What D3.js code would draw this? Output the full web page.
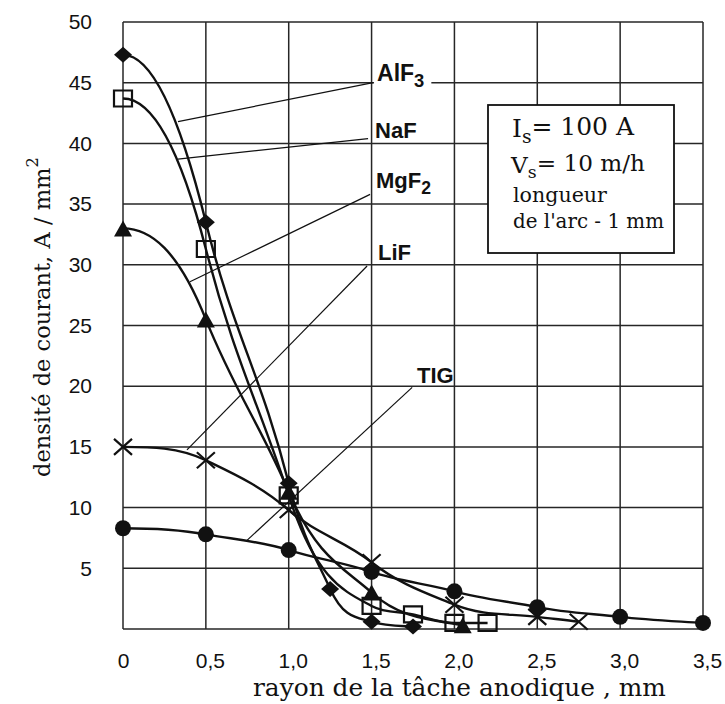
<!DOCTYPE html>
<html>
<head>
<meta charset="utf-8">
<script src="https://cdn.jsdelivr.net/npm/d3@7"></script>
<style>
  body { margin: 0; background: #fff; }
  svg { display: block; }
</style>
</head>
<body>
<svg id="chart" width="725" height="704"></svg>
<script>
// Current density (A/mm²) versus distance from the anode spot centre (mm)
const alf3X = [0, 0.5, 1.0, 1.25, 1.5, 1.75];
const alf3Y = [47.3, 33.5, 12.0, 3.3, 0.6, 0.2];

const nafX = [0, 0.5, 1.0, 1.5, 1.75, 2.0, 2.2];
const nafY = [43.7, 31.3, 11.0, 1.9, 1.2, 0.5, 0.5];

const mgf2X = [0, 0.5, 1.0, 1.5, 2.05];
const mgf2Y = [33.0, 25.5, 11.3, 3.0, 0.3];

const lifX = [0, 0.5, 1.0, 1.5, 2.0, 2.5, 2.75];
const lifY = [15.0, 13.9, 9.8, 5.5, 2.0, 1.0, 0.6];

const tigX = [0, 0.5, 1.0, 1.5, 2.0, 2.5, 3.0, 3.5];
const tigY = [8.3, 7.8, 6.5, 4.7, 3.1, 1.8, 1.0, 0.5];

const xTickValues = [0, 0.5, 1.0, 1.5, 2.0, 2.5, 3.0, 3.5];
const xTickLabels = ["0", "0,5", "1,0", "1,5", "2,0", "2,5", "3,0", "3,5"];
const yTickValues = [5, 10, 15, 20, 25, 30, 35, 40, 45, 50];
const yTickLabels = ["5", "10", "15", "20", "25", "30", "35", "40", "45", "50"];

// Curve names with their leader lines (data units)
const labelNames = ["AlF", "NaF", "MgF", "LiF", "TIG"];
const labelSubs = ["3", "", "2", "", ""];
const labelTextX = [1.533, 1.521, 1.527, 1.539, 1.774];
const labelTextY = [45.1, 40.45, 36.3, 30.4, 20.25];
const leaderFromX = [1.509, 1.479, 1.491, 1.473, 1.745];
const leaderFromY = [45.0, 40.4, 35.8, 29.9, 19.9];
const leaderToX = [0.332, 0.332, 0.404, 0.386, 0.748];
const leaderToY = [41.8, 38.7, 28.6, 14.75, 7.3];

const svg = d3.select("#chart");
const x = d3.scaleLinear().domain([0, 3.5]).range([123, 703]);
const y = d3.scaleLinear().domain([0, 50]).range([629, 22]);

const ink = "#111";
const gridInk = "#262626";

// Grid
const grid = svg.append("g").attr("stroke", gridInk).attr("stroke-width", 1.5);
grid.selectAll("line.v").data(xTickValues).join("line")
  .attr("x1", d => x(d)).attr("x2", d => x(d))
  .attr("y1", y(0)).attr("y2", y(50));
grid.selectAll("line.h").data([0].concat(yTickValues)).join("line")
  .attr("x1", x(0)).attr("x2", x(3.5))
  .attr("y1", d => y(d)).attr("y2", d => y(d));

// Axes (labels only)
const sansFont = "Liberation Sans, Arial, sans-serif";
const serifFont = "DejaVu Serif, serif";

const yAxis = svg.append("g").attr("transform", `translate(${x(0)},0)`)
  .call(d3.axisLeft(y).tickValues(yTickValues).tickFormat((d, i) => yTickLabels[i]).tickSize(0).tickPadding(31));
const xAxis = svg.append("g").attr("transform", `translate(0,${y(0)})`)
  .call(d3.axisBottom(x).tickValues(xTickValues).tickFormat((d, i) => xTickLabels[i]).tickSize(0).tickPadding(24));
[yAxis, xAxis].forEach(g => {
  g.select(".domain").remove();
  g.selectAll("text").attr("font-family", sansFont).attr("font-size", 21).attr("fill", ink);
});
xAxis.selectAll("text").attr("dx", (d, i) => i === 0 ? 0 : 4);

// Fits a text element to a given width by adjusting its font size
function fitWidth(sel, target) {
  const w = sel.node().getComputedTextLength();
  const fs = parseFloat(sel.attr("font-size"));
  sel.attr("font-size", (fs * target / w).toFixed(2));
  return sel;
}

// Axis titles
const xTitle = svg.append("text")
  .attr("x", 253).attr("y", 696)
  .attr("font-family", serifFont).attr("font-size", 22).attr("fill", ink)
  .text("rayon de la tâche anodique , mm");
fitWidth(xTitle, 413);

const yTitle = svg.append("text")
  .attr("transform", "translate(50,477) rotate(-90)")
  .attr("font-family", serifFont).attr("font-size", 22).attr("fill", ink);
yTitle.append("tspan").text("densité de courant, A / mm");
yTitle.append("tspan").attr("dy", "-0.75em").attr("font-size", "0.72em").text("2");
fitWidth(yTitle, 320);

// Leader lines
const leaders = svg.append("g").attr("stroke", ink).attr("stroke-width", 1.2);
labelNames.forEach((n, i) => {
  leaders.append("line")
    .attr("x1", x(leaderFromX[i])).attr("y1", y(leaderFromY[i]))
    .attr("x2", x(leaderToX[i])).attr("y2", y(leaderToY[i]));
});

// Smooth spline through every point: leaves the axis horizontally,
// interior tangents slightly stiffened, then limited so that no
// segment overshoots its end points.
function curveFlatStartSpline(context) {
  let xs, ys;
  const stiffness = 1.3;
  return {
    areaStart() {}, areaEnd() {},
    lineStart() { xs = []; ys = []; },
    point(px, py) { xs.push(+px); ys.push(+py); },
    lineEnd() {
      const n = xs.length;
      if (!n) return;
      context.moveTo(xs[0], ys[0]);
      if (n < 2) return;
      const h = [], s = [];
      for (let i = 0; i < n - 1; i++) {
        h.push(xs[i + 1] - xs[i]);
        s.push((ys[i + 1] - ys[i]) / h[i]);
      }
      const a = new Array(n).fill(0), b = new Array(n).fill(0),
            c = new Array(n).fill(0), d = new Array(n).fill(0);
      b[0] = 1;
      for (let i = 1; i < n - 1; i++) {
        a[i] = 1 / h[i - 1];
        b[i] = 2 * (1 / h[i - 1] + 1 / h[i]);
        c[i] = 1 / h[i];
        d[i] = 3 * (s[i - 1] / h[i - 1] + s[i] / h[i]);
      }
      a[n - 1] = 1; b[n - 1] = 2; d[n - 1] = 3 * s[n - 2];
      for (let i = 1; i < n; i++) {
        const w = a[i] / b[i - 1];
        b[i] -= w * c[i - 1];
        d[i] -= w * d[i - 1];
      }
      const m = new Array(n);
      m[n - 1] = d[n - 1] / b[n - 1];
      for (let i = n - 2; i >= 0; i--) m[i] = (d[i] - c[i] * m[i + 1]) / b[i];
      for (let i = 1; i < n; i++) {
        const left = s[i - 1];
        const right = i < n - 1 ? s[i] : left;
        if (i < n - 1) m[i] *= stiffness;
        if (left === 0 || right === 0 || Math.sign(left) !== Math.sign(right) || Math.sign(m[i]) !== Math.sign(left)) {
          m[i] = 0;
        } else {
          m[i] = Math.sign(m[i]) * Math.min(Math.abs(m[i]), 3 * Math.min(Math.abs(left), Math.abs(right)));
        }
      }
      for (let i = 0; i < n - 1; i++) {
        const dx = h[i] / 3;
        context.bezierCurveTo(xs[i] + dx, ys[i] + dx * m[i], xs[i + 1] - dx, ys[i + 1] - dx * m[i + 1], xs[i + 1], ys[i + 1]);
      }
    }
  };
}

const line = d3.line().x(d => x(d[0])).y(d => y(d[1])).curve(curveFlatStartSpline);
const zip = (xs, ys) => xs.map((v, i) => [v, ys[i]]);

const series = [
  { key: "AlF3", pts: zip(alf3X, alf3Y), marker: "diamond" },
  { key: "NaF", pts: zip(nafX, nafY), marker: "square" },
  { key: "MgF2", pts: zip(mgf2X, mgf2Y), marker: "triangle" },
  { key: "LiF", pts: zip(lifX, lifY), marker: "cross" },
  { key: "TIG", pts: zip(tigX, tigY), marker: "circle" }
];

const curves = svg.append("g").attr("fill", "none").attr("stroke", ink).attr("stroke-width", 2.4);
series.forEach(s => curves.append("path").attr("d", line(s.pts)));

// Markers
const markerPaths = {
  diamond: "M-9,0L0,-8L9,0L0,8Z",
  triangle: "M-9,8L0,-8L9,8Z",
  cross: "M-9,-8L9,8M-9,8L9,-8",
  square: "M-9,-8H9V8H-9Z"
};
const marks = svg.append("g");
series.forEach(s => {
  const g = marks.append("g");
  s.pts.forEach(p => {
    const cx = x(p[0]), cy = y(p[1]);
    if (s.marker === "circle") {
      g.append("circle").attr("cx", cx).attr("cy", cy).attr("r", 8).attr("fill", ink);
    } else if (s.marker === "square" || s.marker === "cross") {
      g.append("path").attr("transform", `translate(${cx},${cy})`)
        .attr("d", markerPaths[s.marker]).attr("fill", "none")
        .attr("stroke", ink).attr("stroke-width", 2.2);
    } else {
      g.append("path").attr("transform", `translate(${cx},${cy})`)
        .attr("d", markerPaths[s.marker]).attr("fill", ink);
    }
  });
});

// Curve names
labelNames.forEach((name, i) => {
  const t = svg.append("text")
    .attr("x", x(labelTextX[i])).attr("y", y(labelTextY[i]))
    .attr("font-family", sansFont).attr("font-weight", "bold")
    .attr("font-size", i === 0 ? 23 : 22).attr("fill", ink);
  t.append("tspan").text(name);
  if (labelSubs[i]) t.append("tspan").attr("dy", "0.3em").attr("font-size", "0.8em").text(labelSubs[i]);
  if (i === 0) {
    const bb = t.node().getBBox();
    svg.insert("rect", () => t.node())
      .attr("x", bb.x - 3).attr("y", bb.y).attr("width", bb.width + 10).attr("height", bb.height)
      .attr("fill", "#fff");
  }
});

// Welding conditions box
const box = svg.append("g");
box.append("rect").attr("x", 488).attr("y", 105).attr("width", 186).attr("height", 148)
  .attr("fill", "#fff").attr("stroke", ink).attr("stroke-width", 1.8);

const l1 = box.append("text").attr("x", 512).attr("y", 137)
  .attr("font-family", serifFont).attr("font-size", 21).attr("fill", ink);
l1.append("tspan").text("I");
l1.append("tspan").attr("dy", "0.3em").attr("font-size", "0.75em").text("s");
l1.append("tspan").attr("dy", "-0.3em").text("= 100 A");
fitWidth(l1, 122);

const l2 = box.append("text").attr("x", 511).attr("y", 173)
  .attr("font-family", serifFont).attr("font-size", 21).attr("fill", ink);
l2.append("tspan").text("V");
l2.append("tspan").attr("dy", "0.3em").attr("font-size", "0.75em").text("s");
l2.append("tspan").attr("dy", "-0.3em").text("= 10 m/h");
fitWidth(l2, 134);

const l3 = box.append("text").attr("x", 513).attr("y", 202)
  .attr("font-family", serifFont).attr("font-size", 17).attr("fill", ink).text("longueur");
fitWidth(l3, 94);
const l4 = box.append("text").attr("x", 513).attr("y", 228)
  .attr("font-family", serifFont).attr("font-size", 17).attr("fill", ink).text("de l'arc - 1 mm");
fitWidth(l4, 151);
</script>
</body>
</html>
